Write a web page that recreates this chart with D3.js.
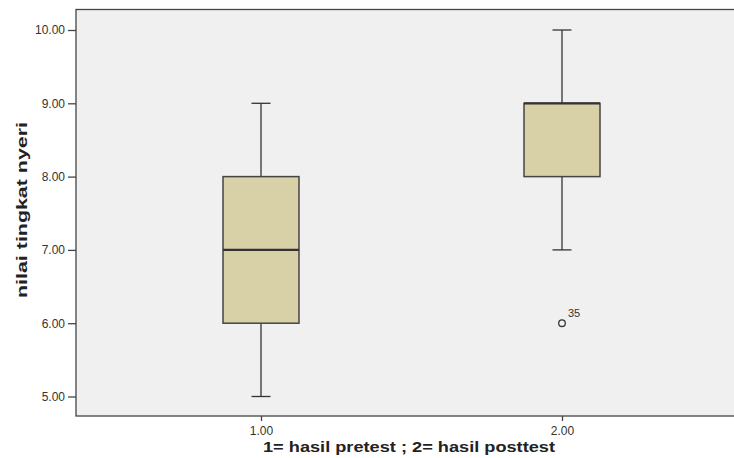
<!DOCTYPE html>
<html><head><meta charset="utf-8">
<script src="https://cdn.jsdelivr.net/npm/d3@7"></script>
<style>body{margin:0;background:#fff}svg{display:block;font-family:"Liberation Sans",Arial,sans-serif}</style>
</head><body>
<svg id="c" width="734" height="458"></svg>
<script>
const categories = ["1.00", "2.00"];
const mins = [5, 7];
const q1s = [6, 8];
const medians = [7, 9];
const q3s = [8, 9];
const maxs = [9, 10];
const outliers = [{cat: "2.00", value: 6, label: "35"}];
const yTicks = [5, 6, 7, 8, 9, 10];

const svg = d3.select("#c");
const L = 76, T = 9.5, R = 740, B = 416;
const x = d3.scalePoint().domain(categories).range([261, 562]);
const y = d3.scaleLinear().domain([5, 10]).range([396.5, 30]);

svg.append("rect").attr("x", L).attr("y", T).attr("width", R - L).attr("height", B - T)
  .attr("fill", "#f0f0f0").attr("stroke", "#444").attr("stroke-width", 1.3);

const yAxis = svg.append("g").attr("transform", `translate(${L},0)`)
  .call(d3.axisLeft(y).tickValues(yTicks).tickFormat(d3.format(".2f")).tickSize(8).tickPadding(3));
yAxis.select(".domain").remove();
yAxis.selectAll("line").attr("stroke", "#444").attr("stroke-width", 1.3);
yAxis.selectAll("text").attr("fill", "#333").style("font-size", "12px").style("font-family", "Liberation Sans, Arial, sans-serif");

const xAxis = svg.append("g").attr("transform", `translate(0,${B})`)
  .call(d3.axisBottom(x).tickSize(5).tickPadding(5));
xAxis.select(".domain").remove();
xAxis.selectAll("line").attr("stroke", "#444").attr("stroke-width", 1.3);
xAxis.selectAll("text").attr("fill", "#333").style("font-size", "12px").style("font-family", "Liberation Sans, Arial, sans-serif");

const bw = 76, cap = 19;
categories.forEach((c, i) => {
  const cx = x(c);
  const g = svg.append("g").attr("stroke", "#333").attr("stroke-width", 1.3);
  g.append("line").attr("x1", cx).attr("x2", cx).attr("y1", y(maxs[i])).attr("y2", y(q3s[i]));
  g.append("line").attr("x1", cx).attr("x2", cx).attr("y1", y(q1s[i])).attr("y2", y(mins[i]));
  g.append("line").attr("x1", cx - cap/2).attr("x2", cx + cap/2).attr("y1", y(maxs[i])).attr("y2", y(maxs[i]));
  g.append("line").attr("x1", cx - cap/2).attr("x2", cx + cap/2).attr("y1", y(mins[i])).attr("y2", y(mins[i]));
  g.append("rect").attr("x", cx - bw/2).attr("width", bw).attr("y", y(q3s[i])).attr("height", y(q1s[i]) - y(q3s[i]))
    .attr("fill", "#d8d0a6").attr("stroke", "#444").attr("stroke-width", 1.5);
  g.append("line").attr("x1", cx - bw/2).attr("x2", cx + bw/2).attr("y1", y(medians[i])).attr("y2", y(medians[i]))
    .attr("stroke", "#333").attr("stroke-width", 2.2);
});

outliers.forEach(o => {
  svg.append("circle").attr("cx", x(o.cat)).attr("cy", y(o.value)).attr("r", 3.3)
    .attr("fill", "none").attr("stroke", "#333").attr("stroke-width", 1.3);
  svg.append("text").attr("x", x(o.cat) + 6).attr("y", y(o.value) - 6).text(o.label)
    .attr("fill", "#333").style("font-size", "11px");
});

svg.append("text").attr("x", 409).attr("y", 452).attr("text-anchor", "middle")
  .style("font-size", "15.5px").style("font-weight", "bold").attr("fill", "#222")
  .attr("textLength", 292).attr("lengthAdjust", "spacingAndGlyphs")
  .text("1= hasil pretest ; 2= hasil posttest");
svg.append("text").attr("transform", "translate(27,210) rotate(-90)").attr("text-anchor", "middle")
  .style("font-size", "14px").style("font-weight", "bold").attr("fill", "#222")
  .attr("textLength", 176).attr("lengthAdjust", "spacingAndGlyphs")
  .text("nilai tingkat nyeri");
</script>
</body></html>
